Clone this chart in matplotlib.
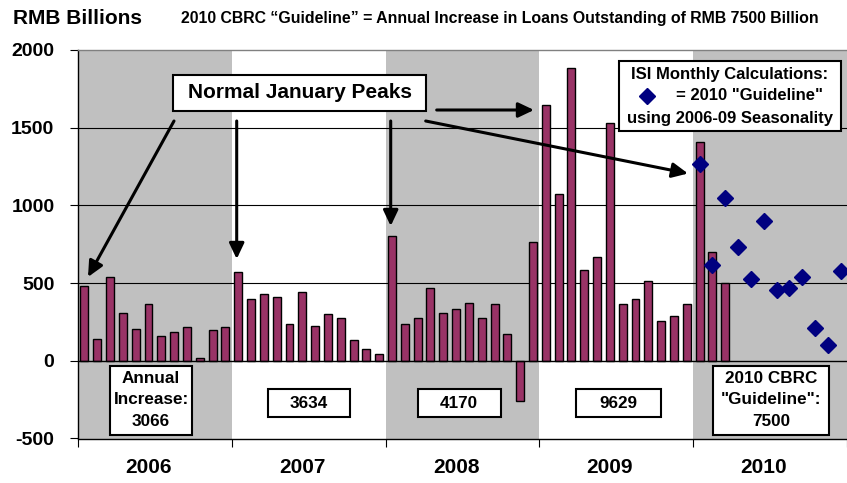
import matplotlib
matplotlib.use("Agg")
import matplotlib.pyplot as plt
from matplotlib.patches import Rectangle, FancyArrowPatch
from matplotlib.lines import Line2D
import numpy as np

plt.rcParams['font.family'] = ['Liberation Sans', 'DejaVu Sans']
plt.rcParams['font.weight'] = 'bold'

# ---------------- data ----------------
years = ["2006", "2007", "2008", "2009", "2010"]
loans_2006 = [480, 140, 540, 310, 205, 365, 160, 183, 215, 15, 195, 215]
loans_2007 = [570, 400, 430, 410, 240, 445, 225, 300, 275, 135, 77, 45]
loans_2008 = [800, 240, 275, 470, 310, 335, 375, 275, 365, 172, -260, 765]
loans_2009 = [1645, 1075, 1885, 585, 665, 1530, 365, 400, 515, 255, 290, 365]
loans_2010 = [1405, 700, 500]
guideline_2010 = [1265, 615, 1050, 730, 525, 900, 455, 470, 540, 210, 100, 575]
annual_increase = ["3066", "3634", "4170", "9629"]
guideline_total = "7500"
yticks = [-500, 0, 500, 1000, 1500, 2000]

W, H = 847, 483
fig = plt.figure(figsize=(W / 100, H / 100), dpi=100)

def fx(px):
    return px / W

def fy(py):
    return 1 - py / H

ax_left, ax_right, ax_top, ax_bot = 78, 847, 50, 438.5
ax = fig.add_axes([fx(ax_left), fy(ax_bot), fx(ax_right - ax_left), fy(ax_top) - fy(ax_bot)])

BAR = "#993366"
GREY = "#C0C0C0"
NAVY = "#000080"

# shading of alternate years
for i, y in enumerate(years):
    if i % 2 == 0:
        ax.axvspan(12 * i, 12 * (i + 1), color=GREY, zorder=0, lw=0)

# grid
for v in [500, 1000, 1500]:
    ax.axhline(v, color="black", lw=0.8, zorder=1)
ax.axhline(0, color="black", lw=1.0, zorder=3)

loans = loans_2006 + loans_2007 + loans_2008 + loans_2009 + loans_2010
xb = np.arange(len(loans)) + 0.5
ax.bar(xb, loans, width=0.62, color=BAR, edgecolor="black", linewidth=1.0, zorder=2)

xg = 48 + np.arange(len(guideline_2010)) + 0.5
ax.plot(xg, guideline_2010, linestyle="none", marker="D", markersize=8.5,
        color=NAVY, zorder=5)

ax.set_xlim(0, 60)
ax.set_ylim(-500, 2000)
ax.set_yticks(yticks)
ax.set_yticklabels([str(v) for v in yticks], fontsize=14, fontweight="bold")
ax.tick_params(axis="y", length=6, width=0.8, direction="out", pad=11)
ax.set_xticks([0, 12, 24, 36, 48, 60])
ax.set_xticklabels([])
ax.tick_params(axis="x", length=6, width=0.8, direction="out")
for s in ["left", "bottom"]:
    ax.spines[s].set_color("black")
    ax.spines[s].set_linewidth(1.0)
ax.spines["top"].set_color("#808080")
ax.spines["top"].set_linewidth(1.0)
ax.spines["right"].set_visible(False)

# year labels
for i, y in enumerate(years):
    ax.text(12 * i + 5.5, -0.074, y, transform=ax.get_xaxis_transform(),
            ha="center", va="center", fontsize=15, fontweight="bold")

# titles
fig.text(fx(13), fy(18), "RMB Billions", fontsize=15, fontweight="bold",
         ha="left", va="center")
fig.text(fx(181), fy(19),
         "2010 CBRC \u201cGuideline\u201d = Annual Increase in Loans Outstanding of RMB 7500 Billion",
         fontsize=11.4, fontweight="bold", ha="left", va="center")

# helper for boxes in pixel coords
def pbox(x0, y0, x1, y1, lw=1.5):
    r = Rectangle((fx(x0), fy(y1)), fx(x1 - x0), fy(y0) - fy(y1),
                  transform=fig.transFigure, facecolor="white",
                  edgecolor="black", linewidth=lw, zorder=6)
    fig.add_artist(r)

# Normal January Peaks box
pbox(173, 75, 426, 110.5)
fig.text(fx(300), fy(93), "Normal January Peaks", fontsize=15, fontweight="bold",
         ha="center", va="center", zorder=7)

# arrows (data coordinates)
def px2d(px, py):
    return ((px - ax_left) / (ax_right - ax_left) * 60,
            2000 - (py - ax_top) / (ax_bot - ax_top) * 2500)

arrows = [((174, 121), (88, 277)),
          ((236.7, 121), (236.7, 259)),
          ((390.7, 121), (390.7, 226)),
          ((436.7, 110), (534, 110)),
          ((425.7, 121), (688, 173.5))]
for (s, e) in arrows:
    a = FancyArrowPatch(px2d(*s), px2d(*e), arrowstyle="-|>,head_length=5.9,head_width=2.8",
                        mutation_scale=1.6, color="black", lw=2.2, zorder=6,
                        shrinkA=0, shrinkB=0)
    ax.add_patch(a)

# legend box
pbox(619, 61, 841, 131)
fig.text(fx(730), fy(74), "ISI Monthly Calculations:", fontsize=12, fontweight="bold",
         ha="center", va="center", zorder=7)
fig.add_artist(Line2D([fx(647)], [fy(95.5)], marker="D", markersize=8.5, color=NAVY,
                      transform=fig.transFigure, zorder=7))
fig.text(fx(749), fy(96), "= 2010 \"Guideline\"", fontsize=12, fontweight="bold",
         ha="center", va="center", zorder=7)
fig.text(fx(730), fy(118.5), "using 2006-09 Seasonality", fontsize=12, fontweight="bold",
         ha="center", va="center", zorder=7)

# annual increase boxes
pbox(110, 366, 191.5, 435)
fig.text(fx(151), fy(400), "Annual\nIncrease:\n" + annual_increase[0], fontsize=12.3,
         fontweight="bold", ha="center", va="center", linespacing=1.55, zorder=7)
for (x0, x1), val in zip([(267.5, 350), (418, 500.5), (576, 660.5)], annual_increase[1:]):
    pbox(x0, 388.5, x1, 417)
    fig.text(fx((x0 + x1) / 2), fy(403), val, fontsize=12.3, fontweight="bold",
             ha="center", va="center", zorder=7)

pbox(713, 366, 829, 435)
fig.text(fx(771), fy(400), "2010 CBRC\n\"Guideline\":\n" + guideline_total, fontsize=12.3,
         fontweight="bold", ha="center", va="center", linespacing=1.55, zorder=7)

fig.savefig("out.png", dpi=100)
